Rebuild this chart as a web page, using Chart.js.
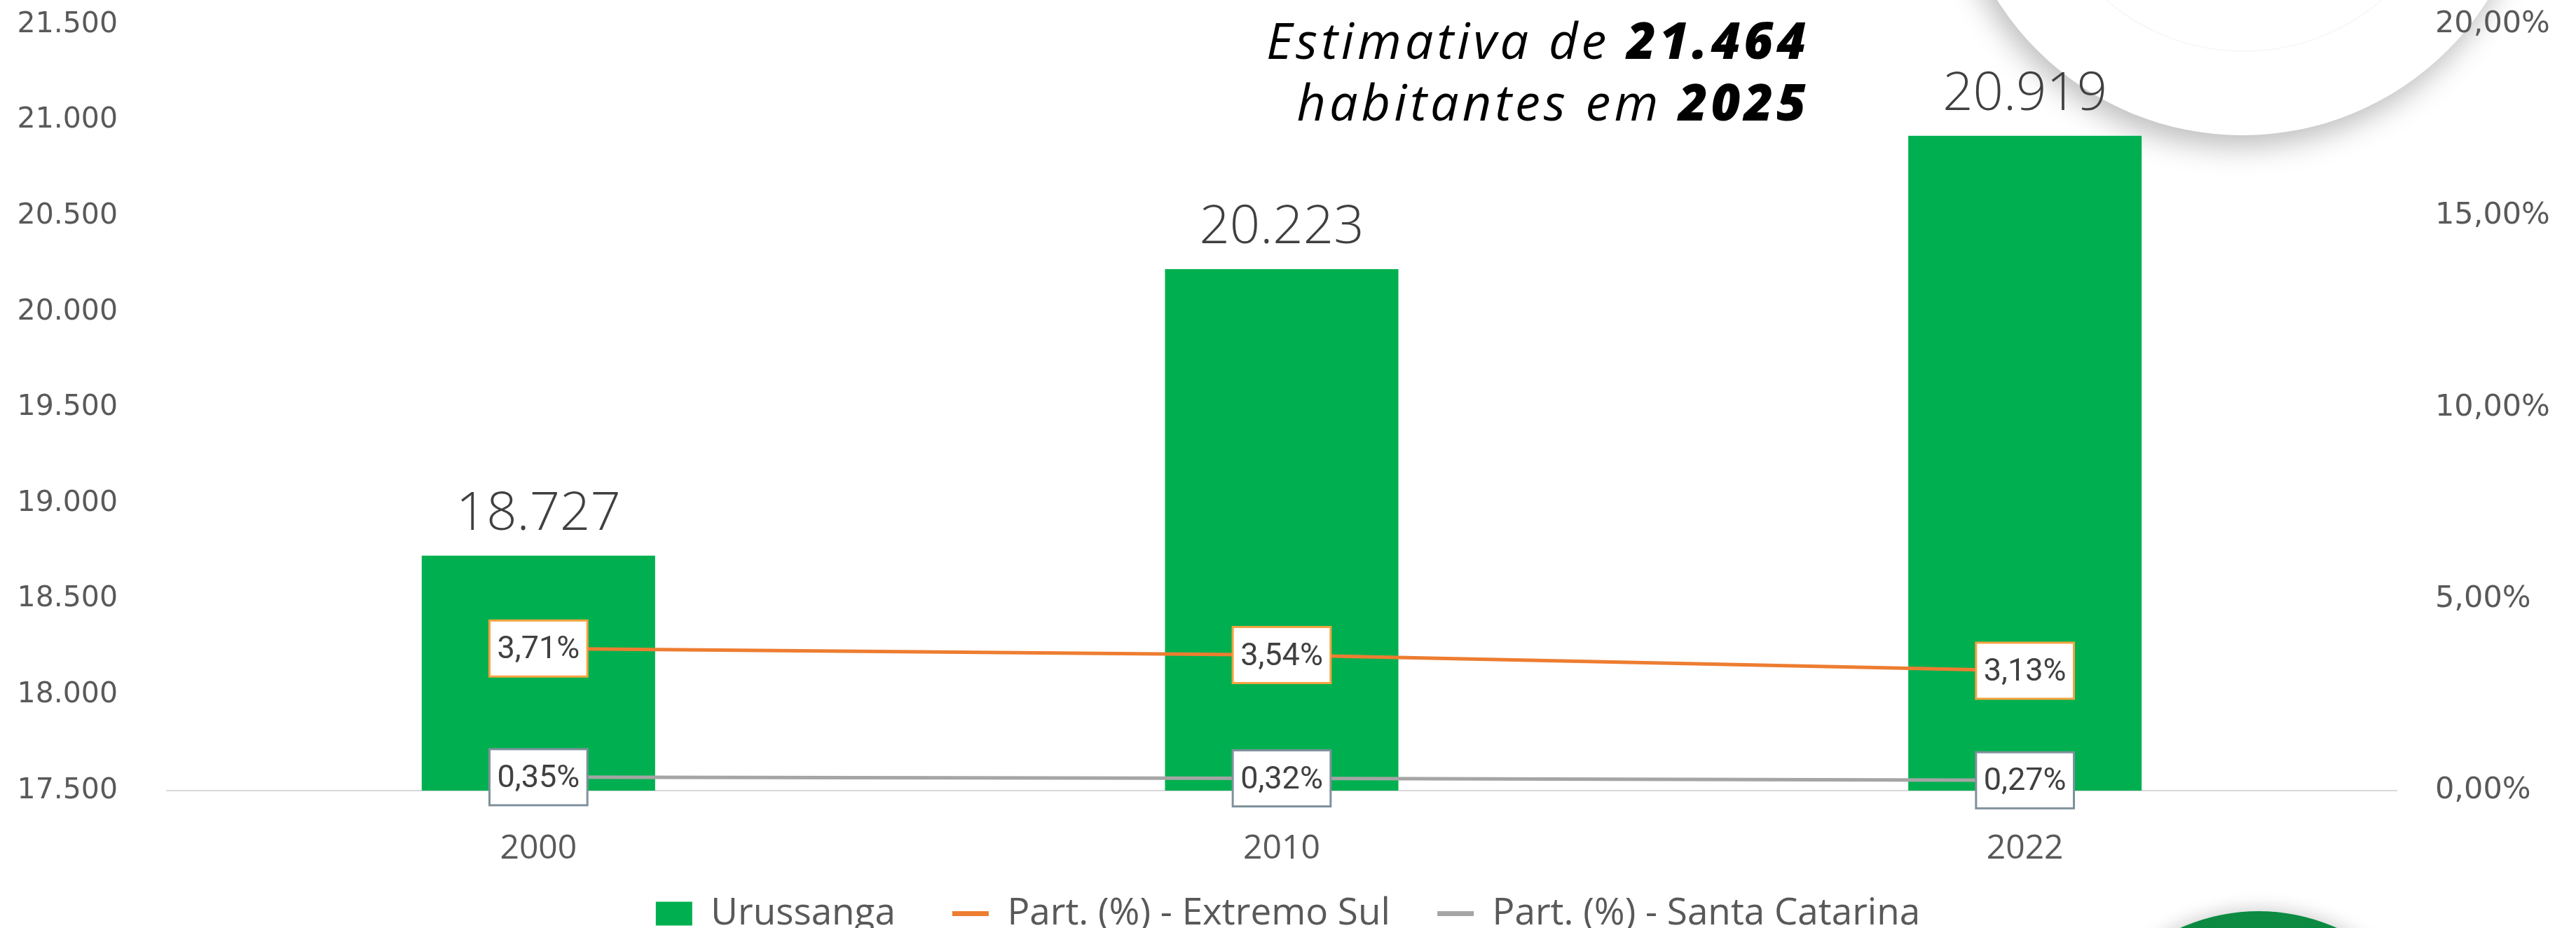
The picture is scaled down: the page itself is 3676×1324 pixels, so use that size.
<!DOCTYPE html>
<html lang="pt-BR">
<head>
<meta charset="utf-8">
<title>Urussanga - população</title>
<script src="https://cdn.jsdelivr.net/npm/chart.js@4.4.1/dist/chart.umd.min.js"></script>
<style>
  html, body { margin: 0; padding: 0; background: #ffffff; }
  #wrap { position: relative; width: 3676px; height: 1324px; overflow: hidden; }
  #grafico { position: absolute; left: 0; top: 0; z-index: 2; }
  .circulo { position: absolute; border-radius: 50%; z-index: 1; }
  #circBranco { left: 2786px; top: -635px; width: 828px; height: 828px; background: #ffffff;
    box-shadow: -6px 16px 40px rgba(0,0,0,0.26); }
  #circInterno { left: 2900px; top: -530px; width: 600px; height: 600px; border: 2px solid rgba(0,0,0,0.03); }
  #circVerde { left: 2950px; top: 1300px; width: 546px; height: 546px;
    background: radial-gradient(circle at 50% 20%, #0e8f45, #087a38); box-shadow: 0 -4px 24px rgba(0,0,0,0.18); }
  #estimativa { position: absolute; right: 1094px; top: 12px; z-index: 3; text-align: right;
    font-family: "Open Sans", sans-serif; font-style: italic; font-size: 72px; line-height: 88px;
    letter-spacing: 5px; color: #000; }
  #estimativa b { font-weight: 800; }
</style>
</head>
<body>
<div id="wrap">
  <div class="circulo" id="circBranco"></div>
  <div class="circulo" id="circInterno"></div>
  <div class="circulo" id="circVerde"></div>
  <canvas id="grafico" width="3676" height="1324"></canvas>
  <div id="estimativa">Estimativa de <b>21.464</b><br>habitantes em <b>2025</b></div>
</div>
<script>
// dados
const anos = ['2000', '2010', '2022'];
const populacao = [18727, 20223, 20919];
const partExtremoSul = [3.71, 3.54, 3.13];
const partSantaCatarina = [0.35, 0.32, 0.27];
const nomesSeries = ['Urussanga', 'Part. (%) - Extremo Sul', 'Part. (%) - Santa Catarina'];

const verde = '#00B050';
const laranja = '#ED7D31';
const cinza = '#A5A5A5';

function formataMilhar(v) {
  return v.toLocaleString('pt-BR');
}
function formataPct(v) {
  return v.toFixed(2).replace('.', ',') + '%';
}

// plugin para escrever os rótulos de dados (valores das barras e caixinhas das linhas)
const rotulos = {
  id: 'rotulos',
  afterDatasetsDraw(chart) {
    const ctx = chart.ctx;
    ctx.save();
    // barras
    const metaBarra = chart.getDatasetMeta(0);
    ctx.font = '300 76px "Open Sans"';
    ctx.fillStyle = '#404040';
    ctx.textAlign = 'center';
    ctx.textBaseline = 'alphabetic';
    metaBarra.data.forEach((el, i) => {
      ctx.fillText(formataMilhar(populacao[i]), el.x, el.y - 37);
    });
    // linhas
    const caixas = [
      { meta: chart.getDatasetMeta(1), valores: partExtremoSul, borda: '#F5A340' },
      { meta: chart.getDatasetMeta(2), valores: partSantaCatarina, borda: '#7F919C' }
    ];
    ctx.font = '45px Roboto';
    ctx.textBaseline = 'middle';
    caixas.forEach(c => {
      c.meta.data.forEach((el, i) => {
        const txt = formataPct(c.valores[i]);
        const w = ctx.measureText(txt).width + 22;
        const h = 80;
        ctx.fillStyle = '#ffffff';
        ctx.fillRect(el.x - w / 2, el.y - h / 2, w, h);
        ctx.lineWidth = 3;
        ctx.strokeStyle = c.borda;
        ctx.strokeRect(el.x - w / 2, el.y - h / 2, w, h);
        ctx.fillStyle = '#404040';
        ctx.fillText(txt, el.x, el.y + 3);
      });
    });
    ctx.restore();
  }
};

// tira o espaço extra que a escala reserva para o rótulo do topo
function semFolga(scale, largura) {
  scale.width = largura;
  scale.paddingTop = 0;
  scale.paddingBottom = 0;
}

// espaços no fim do texto da legenda para afastar os itens sem aumentar a altura
const espacosLegenda = ['    ', '   ', ''];

const grafico = new Chart(document.getElementById('grafico'), {
  type: 'bar',
  data: {
    labels: anos,
    datasets: [
      {
        type: 'bar',
        label: nomesSeries[0],
        data: populacao,
        backgroundColor: verde,
        yAxisID: 'y',
        order: 2,
        categoryPercentage: 1,
        barPercentage: 0.314
      },
      {
        type: 'line',
        label: nomesSeries[1],
        data: partExtremoSul,
        borderColor: laranja,
        backgroundColor: laranja,
        borderWidth: 5,
        pointRadius: 0,
        yAxisID: 'y1',
        order: 1
      },
      {
        type: 'line',
        label: nomesSeries[2],
        data: partSantaCatarina,
        borderColor: cinza,
        backgroundColor: cinza,
        borderWidth: 5,
        pointRadius: 0,
        yAxisID: 'y1',
        order: 1
      }
    ]
  },
  options: {
    responsive: false,
    devicePixelRatio: 1,
    animation: false,
    layout: { padding: { top: 35, left: 0, right: 0, bottom: -16 } },
    plugins: {
      tooltip: { enabled: false },
      legend: {
        position: 'bottom',
        labels: {
          font: { family: 'Open Sans', size: 53 },
          color: '#595959',
          usePointStyle: true,
          pointStyleWidth: 52,
          boxHeight: 34,
          padding: 26,
          generateLabels(chart) {
            return chart.data.datasets.map((ds, i) => ({
              text: ds.label + espacosLegenda[i],
              fillStyle: ds.type === 'bar' ? ds.backgroundColor : ds.borderColor,
              strokeStyle: ds.type === 'bar' ? ds.backgroundColor : ds.borderColor,
              lineWidth: ds.type === 'bar' ? 0 : 7,
              pointStyle: ds.type === 'bar' ? 'rect' : 'line',
              fontColor: '#595959',
              datasetIndex: i,
              hidden: false
            }));
          }
        }
      }
    },
    scales: {
      x: {
        grid: { display: false, drawTicks: false },
        border: { display: true, color: '#D9D9D9', width: 2 },
        ticks: { font: { family: 'Open Sans', size: 48 }, color: '#595959', padding: 55 },
        afterFit(scale) { scale.height = 123; }
      },
      y: {
        position: 'left',
        min: 17500,
        max: 21500,
        grid: { display: false, drawTicks: false },
        border: { display: false },
        ticks: {
          stepSize: 500,
          padding: 70,
          font: { family: 'DejaVu Sans', size: 41 },
          color: '#595959',
          callback: v => formataMilhar(v)
        },
        afterFit(scale) { semFolga(scale, 238); }
      },
      y1: {
        position: 'right',
        min: 0,
        max: 20,
        grid: { display: false, drawTicks: false },
        border: { display: false },
        ticks: {
          stepSize: 5,
          padding: 55,
          font: { family: 'DejaVu Sans', size: 43 },
          color: '#595959',
          callback: v => formataPct(v)
        },
        afterFit(scale) { semFolga(scale, 256); }
      }
    }
  },
  plugins: [rotulos]
});
</script>
</body>
</html>
